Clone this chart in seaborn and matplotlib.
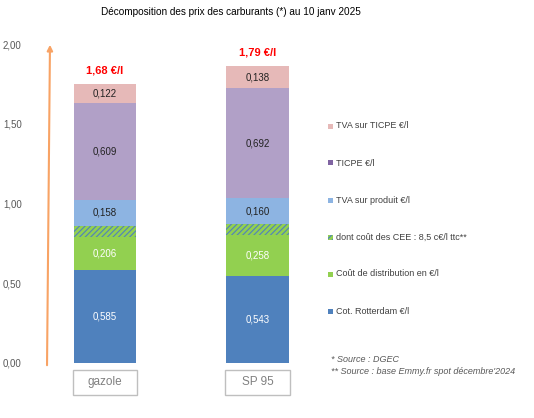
import numpy as np
import pandas as pd
import matplotlib
matplotlib.use("Agg")
import matplotlib.pyplot as plt
import matplotlib.patches as mpatches
import seaborn as sns

# ---- data ----
categories = ["gazole", "SP 95"]
rotterdam = [0.585, 0.543]
distribution = [0.206, 0.258]
cee = [0.071, 0.071]
tva_produit = [0.158, 0.160]
ticpe = [0.609, 0.692]
tva_ticpe = [0.122, 0.138]
totals_label = ["1,68 €/l", "1,79 €/l"]

series_names = ["Cot. Rotterdam €/l", "Coût de distribution en €/l",
                "dont coût des CEE : 8,5 c€/l ttc**", "TVA sur produit €/l",
                "TICPE €/l", "TVA sur TICPE €/l"]
series_vals = [rotterdam, distribution, cee, tva_produit, ticpe, tva_ticpe]
bar_colors = ["#4F81BD", "#92D050", "#92D050", "#8DB4E2", "#B1A0C7", "#E6B9B8"]
legend_colors = ["#4F81BD", "#92D050", "#92D050", "#8DB4E2", "#8064A2", "#E6B9B8"]
label_colors = ["white", "white", None, "#222222", "#222222", "#222222"]

sns.set_style("white")
plt.rcParams["font.family"] = ["Liberation Sans", "DejaVu Sans"]
plt.rcParams["hatch.linewidth"] = 0.8

W, H = 534, 418
fig = plt.figure(figsize=(W / 100, H / 100), dpi=100)
ax_left, ax_right, ax_bot, ax_top = 44, 318.5, 363, 44
ax = fig.add_axes([ax_left / W, (H - ax_bot) / H, (ax_right - ax_left) / W, (ax_bot - ax_top) / H])

vals = np.array(series_vals)
cum = np.cumsum(vals, axis=0)
bw = 0.407

# draw cumulative bars from the top down so each lower layer covers the one above
for i in range(len(series_vals) - 1, -1, -1):
    df = pd.DataFrame({"cat": categories, "v": cum[i]})
    kw = dict(linewidth=0)
    if i == 2:
        kw.update(hatch="//////", edgecolor="#4F81BD")
    sns.barplot(data=df, x="cat", y="v", color=bar_colors[i], saturation=1,
                errorbar=None, width=bw, ax=ax, **kw)

# segment labels
for i, vlist in enumerate(series_vals):
    if label_colors[i] is None:
        continue
    for j, v in enumerate(vlist):
        y = cum[i][j] - v / 2
        ax.text(j, y, f"{v:.3f}".replace(".", ","), ha="center", va="center",
                fontsize=7, color=label_colors[i])

# total labels
for j, lab in enumerate(totals_label):
    ax.annotate(lab, (j, cum[-1][j]), xytext=(0, 6), textcoords="offset points",
                ha="center", va="bottom", color="#FF0000", fontsize=8, fontweight="bold")

ax.set_xlim(-0.4, 1.4)
ax.set_ylim(0, 2)
ax.set_yticks([0, 0.5, 1.0, 1.5, 2.0])
ax.set_yticklabels([f"{t:.2f}".replace(".", ",") for t in [0, 0.5, 1.0, 1.5, 2.0]])
ax.tick_params(axis="y", length=0, pad=16, labelsize=7, labelcolor="#595959")
ax.set_xticks([])
ax.set_xlabel("")
ax.set_ylabel("")
sns.despine(ax=ax, left=True, bottom=True)

# category boxes
trans = ax.get_xaxis_transform()
for j, c in enumerate(categories):
    rect = mpatches.Rectangle((j - 0.21, -0.100), 0.42, 0.078, transform=trans,
                              clip_on=False, fill=False, edgecolor="#BFBFBF", linewidth=1)
    ax.add_patch(rect)
    ax.text(j, -0.061, c, transform=trans, ha="center", va="center",
            fontsize=8.5, color="#808080")

# orange arrow
fig.patches.append(mpatches.FancyArrowPatch((47 / W, (H - 368) / H), (50 / W, (H - 42) / H),
                                            transform=fig.transFigure, arrowstyle="-|>",
                                            mutation_scale=8, color="#F8A365", linewidth=1.5))

# title
fig.text(231 / W, 1 - 12 / H, "Décomposition des prix des carburants (*) au 10 janv 2025",
         ha="center", va="center", fontsize=7.2, color="black")

# legend
order = [5, 4, 3, 2, 1, 0]
ys = [126, 163, 200, 237, 274, 311]
for k, i in zip(ys, order):
    yf = 1 - k / H
    if i == 2:
        p = mpatches.Rectangle((328 / W, yf - 2.5 / H), 5 / W, 5 / H, transform=fig.transFigure,
                               facecolor="#92D050", edgecolor="#4F81BD", hatch="//////", linewidth=0)
    else:
        p = mpatches.Rectangle((328 / W, yf - 2.5 / H), 5 / W, 5 / H, transform=fig.transFigure,
                               facecolor=legend_colors[i], linewidth=0)
    fig.patches.append(p)
    fig.text(336 / W, yf, series_names[i], ha="left", va="center", fontsize=6.5, color="#404040")

fig.text(331 / W, 1 - 360 / H, "* Source : DGEC", ha="left", va="center",
         fontsize=6.5, color="#595959", style="italic")
fig.text(331 / W, 1 - 372 / H, "** Source : base Emmy.fr spot décembre'2024", ha="left",
         va="center", fontsize=6.5, color="#595959", style="italic")

fig.savefig("out.png", dpi=100)
